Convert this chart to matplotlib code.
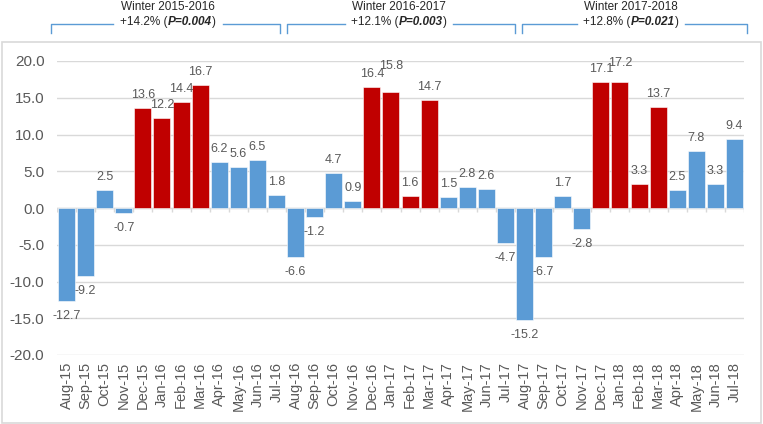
import numpy as np
import matplotlib
matplotlib.use("Agg")
import matplotlib.pyplot as plt
from matplotlib.patches import Rectangle
from matplotlib.lines import Line2D

plt.rcParams['font.family'] = ['Liberation Sans', 'DejaVu Sans']

months = ["Aug-15", "Sep-15", "Oct-15", "Nov-15", "Dec-15", "Jan-16", "Feb-16", "Mar-16",
          "Apr-16", "May-16", "Jun-16", "Jul-16", "Aug-16", "Sep-16", "Oct-16", "Nov-16",
          "Dec-16", "Jan-17", "Feb-17", "Mar-17", "Apr-17", "May-17", "Jun-17", "Jul-17",
          "Aug-17", "Sep-17", "Oct-17", "Nov-17", "Dec-17", "Jan-18", "Feb-18", "Mar-18",
          "Apr-18", "May-18", "Jun-18", "Jul-18"]
values = [-12.7, -9.2, 2.5, -0.7, 13.6, 12.2, 14.4, 16.7,
          6.2, 5.6, 6.5, 1.8, -6.6, -1.2, 4.7, 0.9,
          16.4, 15.8, 1.6, 14.7, 1.5, 2.8, 2.6, -4.7,
          -15.2, -6.7, 1.7, -2.8, 17.1, 17.2, 3.3, 13.7,
          2.5, 7.8, 3.3, 9.4]
winter_months = ["Dec", "Jan", "Feb", "Mar"]

winters = ["Winter 2015-2016", "Winter 2016-2017", "Winter 2017-2018"]
winter_change = ["+14.2%", "+12.1%", "+12.8%"]
winter_p = ["P=0.004", "P=0.003", "P=0.021"]

BLUE = "#5B9BD5"
RED = "#C00000"
GRID = "#D9D9D9"
TXT = "#595959"

W, H = 763, 424
fig = plt.figure(figsize=(W / 100, H / 100), dpi=100)

def fx(px):
    return px / W

def fy(py):
    return 1 - py / H

# outer chart frame
fig.patches.append(Rectangle((fx(2), fy(423)), fx(759), 381 / H, transform=fig.transFigure,
                             fill=False, edgecolor=GRID, linewidth=1.2))

ax = fig.add_axes([fx(57), fy(355), fx(744 - 57), (355 - 61) / H])
x = np.arange(len(months))
colors = [RED if m[:3] in winter_months else BLUE for m in months]
ax.bar(x, values, width=0.89, color=colors, edgecolor="white", linewidth=0.4, zorder=3)

ax.set_xlim(-0.5, len(months) - 0.5)
ax.set_ylim(-20, 20)
ax.set_yticks(np.arange(-20, 21, 5))
ax.set_yticklabels([f"{v:.1f}" for v in np.arange(-20, 21, 5)])
ax.yaxis.grid(True, color=GRID, linewidth=1, zorder=0)
ax.set_xticks(x)
ax.set_xticklabels(months, rotation=90)
ax.tick_params(axis='x', length=0, pad=5, labelsize=10.5, labelcolor=TXT)
ax.tick_params(axis='y', length=0, pad=9, labelsize=11, labelcolor=TXT)
for s in ax.spines.values():
    s.set_visible(False)

# zero axis with category ticks
ax.axhline(0, color=GRID, linewidth=1, zorder=2)
ax.vlines(np.arange(len(months) + 1) - 0.5, -0.6, 0, color=GRID, linewidth=1, zorder=2)

# data labels
nudge = {"Jan-17": 13, "Jan-18": 6}
for xi, v, m in zip(x, values, months):
    off = 13 if v >= 0 else -15
    off += nudge.get(m, 0)
    ax.annotate(f"{v:.1f}", (xi, v), xytext=(0, off), textcoords="offset pixels",
                ha="center", va="center", fontsize=9, color=TXT, zorder=4)

# winter brackets above the frame
brackets = [(51, 280, 113, 223), (287, 515, 345, 453), (522, 747, 577, 685)]
for (x0, x1, g0, g1), name, chg, p in zip(brackets, winters, winter_change, winter_p):
    for xs, ys in [([x0, x0, g0], [33, 24, 24]), ([g1, x1, x1], [24, 24, 33])]:
        fig.add_artist(Line2D([fx(v) for v in xs], [fy(v) for v in ys],
                              transform=fig.transFigure, color=BLUE, linewidth=1))
    cx = (g0 + g1) / 2
    fig.text(fx(cx), fy(7), name, ha="center", va="center", fontsize=8.5, color="#262626")
    pieces = [(chg + " (", "normal", "normal"), (p, "bold", "italic"), (")", "normal", "normal")]
    texts = [fig.text(0, fy(22), s, ha="left", va="center", fontsize=8.5, color="#262626",
                      fontweight=fw, fontstyle=fs) for s, fw, fs in pieces]
    fig.canvas.draw()
    r = fig.canvas.get_renderer()
    widths = [t.get_window_extent(r).width for t in texts]
    start = cx - sum(widths) / 2
    for t, w in zip(texts, widths):
        t.set_x(fx(start))
        start += w

fig.savefig("out.png", dpi=100)
